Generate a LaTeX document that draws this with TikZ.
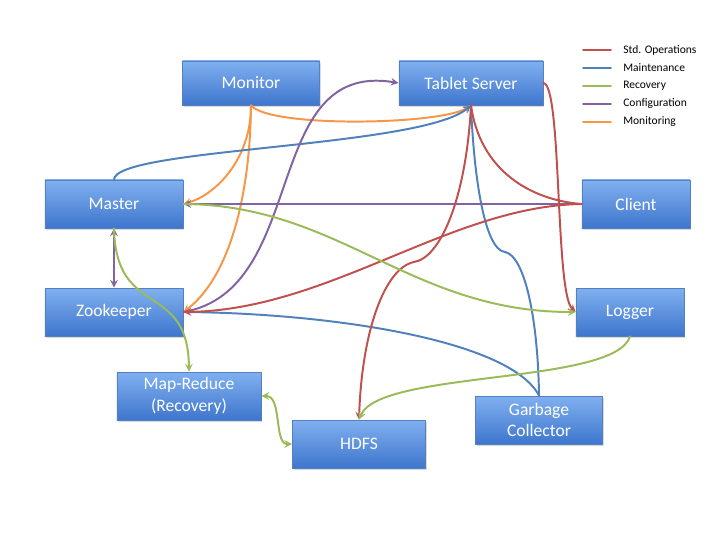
\documentclass[tikz,border=0pt]{standalone}
\usepackage{fontspec}
\setmainfont{Carlito}
\usetikzlibrary{shadows}

\definecolor{opsred}{RGB}{192,80,77}
\definecolor{maintblue}{RGB}{79,129,189}
\definecolor{recovgreen}{RGB}{155,187,89}
\definecolor{configpurple}{RGB}{128,100,162}
\definecolor{monitorange}{RGB}{247,150,70}
\definecolor{boxtop}{RGB}{128,176,240}
\definecolor{boxbot}{RGB}{62,118,205}
\definecolor{boxedge}{RGB}{84,128,192}

\begin{document}
\begin{tikzpicture}[x=0.025cm,y=-0.025cm,line cap=round,line join=round,>=stealth]
  \tikzset{
    box/.style={draw=boxedge,line width=0.6pt,top color=boxtop,bottom color=boxbot,
      text=white,align=center,inner sep=0pt,font=\fontsize{12.5}{15.5}\selectfont,
      drop shadow={opacity=0.3,shadow xshift=1pt,shadow yshift=-1.5pt}},
    ops/.style={draw=opsred,line width=1.4pt},
    maint/.style={draw=maintblue,line width=1.4pt},
    recov/.style={draw=recovgreen,line width=1.4pt},
    config/.style={draw=configpurple,line width=1.4pt},
    monit/.style={draw=monitorange,line width=1.4pt},
    legtext/.style={anchor=west,inner sep=0pt,font=\fontsize{8.2}{10}\selectfont},
  }
  \useasboundingbox (0,0) rectangle (720,540);

  % ==================== components ====================
  \node[box,minimum width=3.425cm,minimum height=1.1cm] (mon) at (251,83) {Monitor};
  \node[box,minimum width=3.6cm,minimum height=1.1cm] (ts) at (471,83) {Tablet Server};
  \node[box,minimum width=3.45cm,minimum height=1.2cm] (mas) at (114,204) {Master};
  \node[box,minimum width=2.7cm,minimum height=1.2cm] (cli) at (636,204) {Client};
  \node[box,minimum width=3.45cm,minimum height=1.2cm] (zoo) at (114,312) {Zookeeper};
  \node[box,minimum width=2.7cm,minimum height=1.2cm] (log) at (630,312) {Logger};
  \node[box,minimum width=3.6cm,minimum height=1.2cm] (mr) at (189,396) {Map-Reduce\\(Recovery)};
  \node[box,minimum width=3.325cm,minimum height=1.2cm] (hdfs) at (359,444) {HDFS};
  \node[box,minimum width=3.175cm,minimum height=1.2cm] (gc) at (539,420) {Garbage\\Collector};

  % ==================== monitoring ====================
  \draw[monit,->] (mon.south) .. controls (270,128) and (440,125) .. (ts.south);
  \draw[monit,->] (mon.south) .. controls (251,160) and (215,195) .. (mas.east);
  \draw[monit,->] (mon.south) .. controls (250,200) and (228,278) .. (zoo.east);

  % ==================== maintenance ====================
  \draw[maint,->] (mas.north) .. controls (115,148) and (420,148) .. (ts.south);
  \draw[maint] (ts.south) .. controls (474,180) and (485,250) .. (505,252)
    .. controls (525,256) and (538,320) .. (gc.north);
  \draw[maint] (zoo.east) .. controls (330,313) and (510,340) .. (gc.north);

  % ==================== configuration ====================
  \draw[config,->] (cli.west) -- (mas.east);
  \draw[config,->] (zoo.east) .. controls (310,290) and (260,60) .. (ts.west);
  \draw[config,<->] (mas.south) -- (zoo.north);

  % ==================== std. operations ====================
  \draw[ops,->] (cli.west) .. controls (450,206) and (330,310) .. (zoo.east);
  \draw[ops] (ts.south) .. controls (480,170) and (530,200) .. (cli.west);
  \draw[ops,->] (ts.south) .. controls (466,200) and (440,258) .. (414,262)
    .. controls (385,268) and (362,330) .. (hdfs.north);
  \draw[ops,->] (ts.east) .. controls (562,85) and (555,292) .. (log.west);

  % ==================== recovery ====================
  \draw[recov,->] (mas.east) .. controls (340,205) and (410,312) .. (log.west);
  \draw[recov,->] (mas.south) .. controls (116,320) and (188,280) .. (mr.north);
  \draw[recov,<->] (mr.east) .. controls (282,396) and (274,444) .. (hdfs.west);
  \draw[recov,->] (log.south) .. controls (615,385) and (380,370) .. (hdfs.north);

  % ==================== legend ====================
  \foreach \y/\sty/\txt in {50/ops/Std. Operations,68/maint/Maintenance,
      86/recov/Recovery,104/config/Configuration,122/monit/Monitoring}{
    \draw[\sty,line width=1.2pt] (583,\y) -- (611,\y);
    \node[legtext] (leg-\sty) at (623,\y) {\txt};
  }
\end{tikzpicture}
\end{document}
